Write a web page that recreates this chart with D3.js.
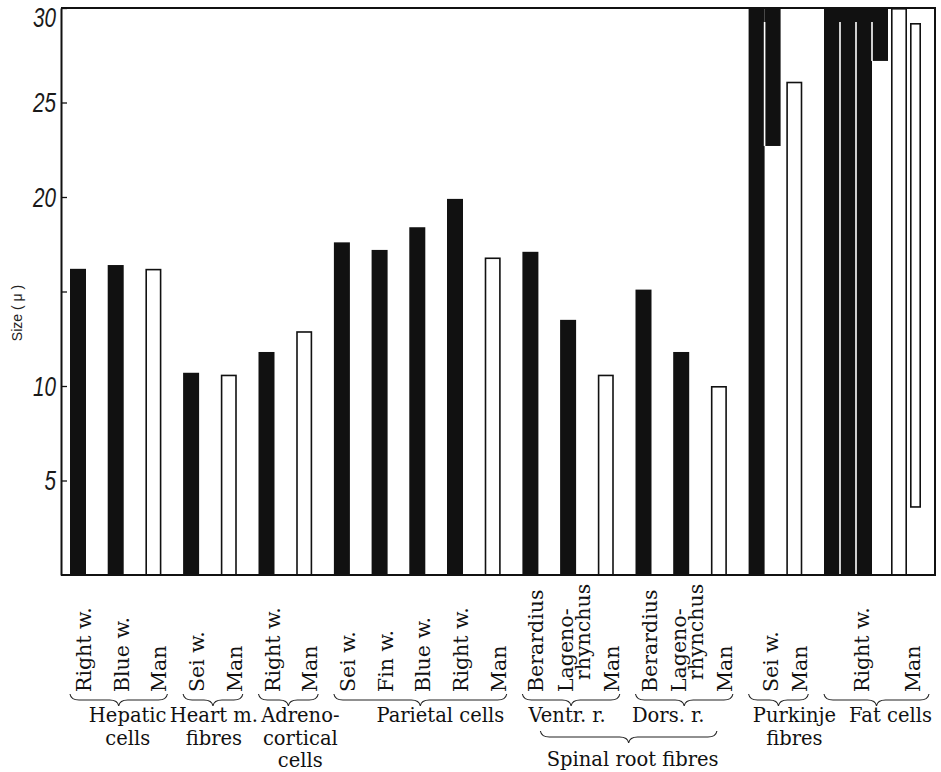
<!DOCTYPE html>
<html>
<head>
<meta charset="utf-8">
<script src="https://cdn.jsdelivr.net/npm/d3@7"></script>
<style>
  body { margin: 0; background: #fff; }
  svg { display: block; }
  .barlab { font-family: 'DejaVu Serif', serif; font-size: 20.5px; fill: #111; }
  .grplab { font-family: 'DejaVu Serif', serif; font-size: 19.5px; fill: #111; }
  .ylab { font-family: 'Liberation Sans', sans-serif; font-style: italic; font-size: 27px; fill: #1a1a1a; }
  .ytitle { font-family: 'Liberation Sans', sans-serif; font-size: 14px; fill: #222; }
</style>
</head>
<body>
<script>
// bars, left to right
var barLabels = ['Right w.', 'Blue w.', 'Man',
  'Sei w.', 'Man',
  'Right w.', 'Man',
  'Sei w.', 'Fin w.', 'Blue w.', 'Right w.', 'Man',
  'Berardius', 'Lageno-|rhynchus', 'Man',
  'Berardius', 'Lageno-|rhynchus', 'Man',
  'Sei w.', 'Man',
  'Right w.', 'Man'];
var barGroups = ['hep', 'hep', 'hep', 'heart', 'heart', 'adr', 'adr',
  'par', 'par', 'par', 'par', 'par', 'ventr', 'ventr', 'ventr',
  'dors', 'dors', 'dors', 'purk', 'purk', 'fat', 'fat'];
// size in micron; values above 30 are drawn folded back at the top of the scale
var sizes = [16.2, 16.4, 16.2, 10.7, 10.6, 11.8, 12.9,
  17.6, 17.2, 18.4, 19.9, 16.8, 17.1, 13.5, 10.6,
  15.1, 11.8, 10.0, 37.3, 26.1, 92.8, 56.4];

var groupKeys = ['hep', 'heart', 'adr', 'par', 'ventr', 'dors', 'purk', 'fat'];
var groupLabels = [['Hepatic', 'cells'], ['Heart m.', 'fibres'], ['Adreno-', 'cortical', 'cells'],
  ['Parietal cells'], ['Ventr. r.'], ['Dors. r.'], ['Purkinje', 'fibres'], ['Fat cells']];
var superGroup = { label: 'Spinal root fibres', members: ['ventr', 'dors'] };

var yTicks = [5, 10, 15, 20, 25, 30];
var yMax = 30;

var W = 941, H = 772;
var padL = 61, padR = 935, padT = 8, padB = 575;
var legW = 16, slotStep = 37.7;

var svg = d3.select('body').append('svg')
  .attr('width', W).attr('height', H);

var y = d3.scaleLinear().domain([0, yMax]).range([padB, padT]);
var xs = d3.scaleLinear().domain([0, 1]).range([70, 70 + slotStep]);

function legsOf(v) {
  var n = Math.ceil(v / yMax), rem = v - yMax * (n - 1), out = [];
  for (var i = 0; i < n; i++) {
    var lo = 0, hi = yMax;
    if (i === n - 1) {
      if (i % 2 === 0) hi = rem; else lo = yMax - rem;
    }
    out.push({ i: i, lo: lo, hi: hi });
  }
  return out;
}

var pos = 0;
var bars = sizes.map(function(v, i) {
  var legs = legsOf(v);
  var b = { v: v, label: barLabels[i], group: barGroups[i], man: barLabels[i] === 'Man', legs: legs, x: xs(pos) };
  b.x2 = b.x + legs.length * legW;
  pos += Math.max(1, (legs.length * legW + 3) / slotStep);
  return b;
});

// bars
var gBars = svg.append('g');
bars.forEach(function(b) {
  var g = gBars.append('g');
  if (!b.man) {
    g.selectAll('rect').data(b.legs).enter().append('rect')
      .attr('x', function(d) { return b.x + d.i * legW; })
      .attr('y', function(d) { return y(d.hi); })
      .attr('width', legW)
      .attr('height', function(d) { return y(d.lo) - y(d.hi); })
      .attr('fill', '#111');
    // white seams where the bar folds over
    g.selectAll('line').data(b.legs.slice(1)).enter().append('line')
      .attr('x1', function(d) { return b.x + d.i * legW; })
      .attr('x2', function(d) { return b.x + d.i * legW; })
      .attr('y1', function(d) { return Math.max(y(d.hi), y(yMax) + 14); })
      .attr('y2', function(d) { return y(d.lo); })
      .attr('stroke', '#fff').attr('stroke-width', 1.6);
  } else {
    g.selectAll('rect').data(b.legs).enter().append('rect')
      .attr('x', function(d) { return b.x + d.i * legW + (d.i ? 3 : 0) + 0.8; })
      .attr('y', function(d) { return y(d.hi) + (d.i && d.hi === yMax ? 15 : 0) + 0.8; })
      .attr('width', function(d) { return (d.i ? legW - 5 : legW) - 1.6; })
      .attr('height', function(d) {
        return y(d.lo) - y(d.hi) - (d.i && d.hi === yMax ? 15 : 0) - 0.8;
      })
      .attr('fill', '#fff').attr('stroke', '#111').attr('stroke-width', 1.6);
  }
});

// frame
svg.append('path')
  .attr('d', 'M' + padL + ',' + padT + 'H' + padR + 'V' + padB + 'H' + padL)
  .attr('fill', 'none').attr('stroke', '#111').attr('stroke-width', 2);

var yAxis = svg.append('g')
  .attr('transform', 'translate(' + padL + ',0)')
  .call(d3.axisLeft(y).tickValues(yTicks).tickSizeInner(-6).tickSizeOuter(0).tickPadding(5)
    .tickFormat(function(d) { return d === 15 ? '' : d; }));
yAxis.select('.domain').attr('stroke', '#111').attr('stroke-width', 2);
yAxis.selectAll('.tick line').attr('stroke', '#111').attr('stroke-width', 1.3);
yAxis.selectAll('.tick text')
  .attr('class', 'ylab')
  .attr('dy', function(d) { return d === yMax ? '0.68em' : '0.35em'; })
  .attr('textLength', function(d) { return String(d).length * 11.5; })
  .attr('lengthAdjust', 'spacingAndGlyphs');

svg.append('text')
  .attr('class', 'ytitle')
  .attr('transform', 'translate(22,313) rotate(-90)')
  .attr('text-anchor', 'middle')
  .text('Size ( \u03bc )');

// rotated bar labels
var labBase = 692;
bars.forEach(function(b) {
  var lines = b.label.split('|');
  var cx = (b.x + b.x2) / 2 + 6;
  lines.forEach(function(t, k) {
    var c = cx + (k - (lines.length - 1) / 2) * 17;
    svg.append('text')
      .attr('class', 'barlab')
      .attr('transform', 'translate(' + (c + 7) + ',' + (labBase - k * 12) + ') rotate(-90)')
      .text(t);
  });
});

// braces
function brace(x1, x2, yy, h) {
  var m = (x1 + x2) / 2, q = h / 2;
  return 'M' + x1 + ',' + yy +
    'Q' + (x1 + 1) + ',' + (yy + q) + ' ' + (x1 + 9) + ',' + (yy + q) +
    'L' + (m - 9) + ',' + (yy + q) +
    'Q' + (m - 1) + ',' + (yy + q) + ' ' + m + ',' + (yy + h) +
    'Q' + (m + 1) + ',' + (yy + q) + ' ' + (m + 9) + ',' + (yy + q) +
    'L' + (x2 - 9) + ',' + (yy + q) +
    'Q' + (x2 - 1) + ',' + (yy + q) + ' ' + x2 + ',' + yy;
}

// nudges of the typeset group names off the brace centre
var labelDx = { hep: 9, heart: 1, adr: 12, par: 20, ventr: -4, dors: -16, purk: 16, fat: 14 };
var lineGap = 22.7;

var spans = {};
groupKeys.forEach(function(k, gi) {
  var gb = bars.filter(function(b) { return b.group === k; });
  var x1 = d3.min(gb, function(b) { return b.x; });
  var x2 = d3.max(gb, function(b) { return b.x2; }) + 6;
  var cx = (x1 + x2) / 2 + labelDx[k];
  spans[k] = [x1, x2];
  svg.append('path')
    .attr('d', brace(x1, x2, 694, 12))
    .attr('fill', 'none').attr('stroke', '#222').attr('stroke-width', 1.1);
  svg.append('text')
    .attr('class', 'grplab')
    .attr('y', 722)
    .attr('text-anchor', 'middle')
    .selectAll('tspan').data(groupLabels[gi]).enter().append('tspan')
      .attr('x', cx)
      .attr('dy', function(d, i) { return i ? lineGap : 0; })
      .text(function(d) { return d; });
});

var sx1 = spans[superGroup.members[0]][0] + 18;
var sx2 = spans[superGroup.members[1]][1] - 16;
svg.append('path')
  .attr('d', brace(sx1, sx2, 731, 12))
  .attr('fill', 'none').attr('stroke', '#222').attr('stroke-width', 1.1);
svg.append('text')
  .attr('class', 'grplab')
  .attr('x', (sx1 + sx2) / 2 + 4)
  .attr('y', 766)
  .attr('text-anchor', 'middle')
  .text(superGroup.label);
</script>
</body>
</html>
